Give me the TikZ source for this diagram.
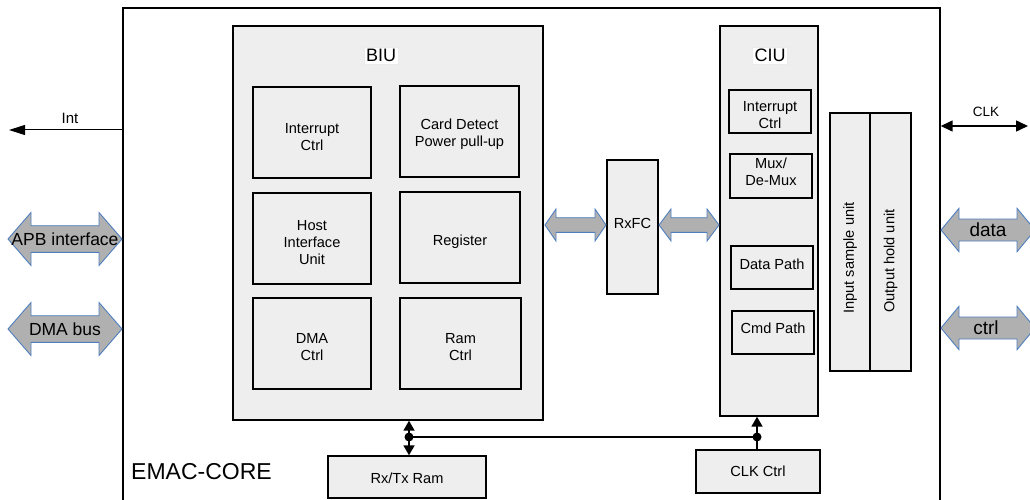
\documentclass[tikz,border=0pt]{standalone}
\usepackage{fontspec}
\setmainfont{Liberation Sans}
\usetikzlibrary{arrows.meta}
\definecolor{boxgray}{HTML}{EEEEEE}
\definecolor{arrgray}{HTML}{B0B0B0}
\definecolor{arrblue}{HTML}{4F7FBF}
\newcommand{\dblarrow}[6]{% xl, xr, y, H, S, L
  \filldraw[fill=arrgray, draw=arrblue, line width=0.9pt, line join=miter]
   (#1,#3) -- (#1+#6,#3-#4) -- (#1+#6,#3-#5) -- (#2-#6,#3-#5) -- (#2-#6,#3-#4)
   -- (#2,#3) -- (#2-#6,#3+#4) -- (#2-#6,#3+#5) -- (#1+#6,#3+#5) -- (#1+#6,#3+#4) -- cycle;}
\begin{document}
\begin{tikzpicture}[x=1pt,y=-1pt,
  blk/.style={draw, fill=boxgray, line width=1.4pt, inner sep=0pt, minimum width=#1},
  blk/.default=10pt,
  lbl/.style={inner sep=0pt, align=center, font=\fontsize{14.6}{17}\selectfont},
  tag/.style={draw=black!8, fill=white, inner sep=2pt, font=\fontsize{18}{20}\selectfont},
  bigtxt/.style={inner sep=0pt, font=\fontsize{17.5}{20}\selectfont}
]
\useasboundingbox (0,0) rectangle (1030,500);
\clip (0,0) rectangle (1030,500);
% outer box
\node[draw, line width=1.4pt, minimum width=817pt, minimum height=502pt, inner sep=0pt] (core) at (531.5,259) {};
\node[anchor=west, inner sep=0pt, font=\fontsize{23}{26}\selectfont] (emac) at (131,472) {EMAC-CORE};

% BIU
\node[blk=310pt, minimum height=394pt] (biu) at (388,223) {};
\node[tag] (biul) at (381,55.5) {BIU};
\node[blk=118pt, minimum height=91pt] (bint) at (312,132.5) {};
\node[lbl] at ([yshift=-4.5pt]bint.center) {Interrupt\\Ctrl};
\node[blk=119pt, minimum height=91pt] (card) at (459.5,131.5) {};
\node[lbl] at ([yshift=-3pt]card.center) {Card Detect\\Power pull-up};
\node[blk=118pt, minimum height=91pt] (host) at (312,238.5) {};
\node[lbl] at ([yshift=-4.5pt]host.center) {Host\\Interface\\Unit};
\node[blk=120pt, minimum height=91pt] (reg) at (460,237.5) {};
\node[lbl] at ([yshift=-4.5pt]reg.center) {Register};
\node[blk=118pt, minimum height=91pt] (dma) at (312,343.5) {};
\node[lbl] at ([yshift=-4pt]dma.center) {DMA\\Ctrl};
\node[blk=121pt, minimum height=91pt] (ramc) at (460.5,343.5) {};
\node[lbl] at ([yshift=-4pt]ramc.center) {Ram\\Ctrl};

% RxFC
\node[blk=51pt, minimum height=134pt] (rxfc) at (632.5,227) {};
\node[lbl] at ([yshift=4pt]rxfc.center) {RxFC};

% CIU
\node[blk=98pt, minimum height=390pt] (ciu) at (769,221) {};
\node[tag] (ciul) at (770,55.5) {CIU};
\node[blk=82pt, minimum height=43pt] (cint) at (770,111.5) {};
\node[lbl] at ([yshift=-4pt]cint.center) {Interrupt\\Ctrl};
\node[blk=82pt, minimum height=44pt] (mux) at (771,176) {};
\node[lbl] at ([yshift=4pt]mux.center) {Mux/\\De-Mux};
\node[blk=82pt, minimum height=43pt] (dpath) at (772,267.5) {};
\node[lbl] at ([yshift=3.5pt]dpath.center) {Data Path};
\node[blk=82pt, minimum height=43pt] (cpath) at (773,332.5) {};
\node[lbl] at ([yshift=4pt]cpath.center) {Cmd Path};

% sample / hold units
\node[blk=40pt, minimum height=258pt] (insu) at (850,242) {};
\node[lbl, rotate=90] at ([yshift=-16pt]insu.center) {Input sample unit};
\node[blk=41pt, minimum height=258pt] (outh) at (890.5,242) {};
\node[lbl, rotate=90] at ([yshift=-19pt]outh.center) {Output hold unit};

% bottom blocks
\node[blk=158pt, minimum height=42pt] (ram) at (407,477) {};
\node[lbl] at ([yshift=-1pt]ram.center) {Rx/Tx Ram};
\node[blk=124pt, minimum height=43pt] (clkc) at (758,471.5) {};
\node[lbl] at (clkc.center) {CLK Ctrl};

% bus
\coordinate (bj) at (409,437);
\coordinate (cj) at (757,437);
\draw[line width=1.8pt] (bj) -- (cj);
\draw[line width=1.8pt, {Triangle[length=10pt,width=11pt]}-{Triangle[length=10pt,width=11pt]}] (bj |- biu.south) -- (bj |- ram.north);
\draw[line width=1.8pt, -{Triangle[length=10pt,width=11pt]}] (cj |- clkc.north) -- (cj |- ciu.south);
\fill (bj) circle (4.5pt);
\fill (cj) circle (4.5pt);

% Int and CLK
\coordinate (intend) at (9,130);
\draw[line width=1pt, -{Triangle[length=16pt,width=10pt]}] (core.west |- intend) -- (intend);
\node[lbl, font=\fontsize{15}{17}\selectfont] (intl) at (70,118) {Int};
\coordinate (clkend) at (1028,126);
\draw[line width=1.5pt, {Triangle[length=12pt,width=11pt]}-{Triangle[length=12pt,width=11pt]}] (core.east |- clkend) -- (clkend);
\node[lbl, font=\fontsize{13.5}{15}\selectfont] (clkl) at (986,112) {CLK};

% big arrows
\dblarrow{8}{122}{239}{26.5}{13.3}{23}
\node[bigtxt] (apb) at (65,239) {APB interface};
\dblarrow{8}{122}{329}{26.5}{13.3}{23}
\node[bigtxt] (dmab) at (65,329) {DMA bus};
\dblarrow{941}{1035}{230}{21.7}{11}{18}
\node[bigtxt, font=\fontsize{19}{21}\selectfont] (datal) at (988,230) {data};
\dblarrow{941}{1035}{328}{21.7}{11}{18}
\node[bigtxt, font=\fontsize{19}{21}\selectfont] (ctrll) at (986,328) {ctrl};

% RxFC links
\dblarrow{545}{606}{225}{16}{7.3}{11}
\dblarrow{659}{719}{225}{16}{7.3}{12}
\end{tikzpicture}
\end{document}
